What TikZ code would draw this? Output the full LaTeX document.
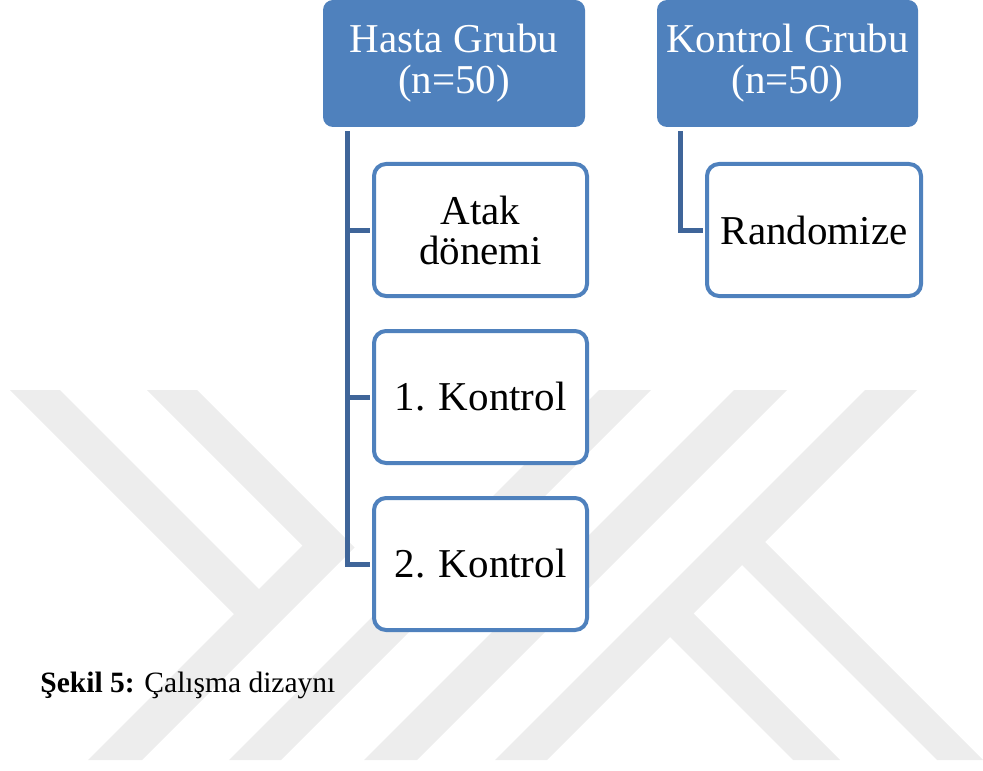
\documentclass[tikz,border=0pt]{standalone}
\usepackage{fontspec}
\setmainfont{Liberation Serif}
\definecolor{boxblue}{RGB}{79,129,189}
\definecolor{connblue}{RGB}{63,101,153}
\definecolor{wm}{RGB}{237,237,237}
\begin{document}
\begin{tikzpicture}[x=0.5pt,y=-0.5pt,
  topbox/.style={fill=boxblue, draw=none, rounded corners=5pt, text=white, align=center, inner sep=0pt, minimum width=131pt, minimum height=63.5pt, font=\fontsize{20.5}{20.5}\selectfont},
  subbox/.style={fill=white, draw=boxblue, line width=2pt, rounded corners=6pt, align=center, inner sep=0pt, minimum width=106.5pt, minimum height=66pt, font=\fontsize{20.5}{20}\selectfont},
  conn/.style={draw=connblue, line width=2.5pt},
  wmark/.style={fill=wm, draw=none}]
\useasboundingbox (0,0) rectangle (983,770);
% watermark
\fill[wmark] (10,390) -- (60,390) -- (259,589) -- (302.5,545.5) -- (147,390) -- (197,390) -- (354.5,547.5) -- (142,760) -- (88,760) -- (234,614) -- cycle;
\fill[wmark] (599,390) -- (651,390) -- (281,760) -- (229,760) -- cycle;
\fill[wmark] (734,390) -- (787,390) -- (417,760) -- (364,760) -- cycle;
\fill[wmark] (865,390) -- (917,390) -- (547,760) -- (495,760) -- cycle;
\fill[wmark] (661.5,628.5) -- (685,605) -- (840,760) -- (793,760) -- cycle;
\fill[wmark] (733.5,556.5) -- (756.5,533.5) -- (983,760) -- (937,760) -- cycle;
% nodes
\node[topbox] (hasta) at (454,63.5) {Hasta Grubu\\(n=50)};
\node[topbox, minimum width=130.5pt] (kontrol) at (787.5,63.5) {Kontrol Grubu\\(n=50)};
\node[subbox] (atak) at (480.5,230) {Atak\\dönemi};
\node[subbox] (k1) at (480.5,397) {1. Kontrol};
\node[subbox] (k2) at (480.5,564) {2. Kontrol};
\node[subbox, minimum width=107pt] (rand) at (814,230) {Randomize};
\coordinate (hx) at (347.5,0);
\coordinate (kx) at (680.5,0);
\draw[conn, shorten >=1pt] ([yshift=-2pt]hx |- hasta.south) |- (k2.west);
\draw[conn, shorten >=1pt] (hx |- atak.west) -- (atak.west);
\draw[conn, shorten >=1pt] (hx |- k1.west) -- (k1.west);
\draw[conn, shorten >=1pt] ([yshift=-2pt]kx |- kontrol.south) |- (rand.west);
\node[anchor=base west, font=\fontsize{14.75}{17}\selectfont, inner sep=0pt] (cap) at (40,692) {\textbf{Şekil 5:} Çalışma dizaynı};
\end{tikzpicture}
\end{document}
